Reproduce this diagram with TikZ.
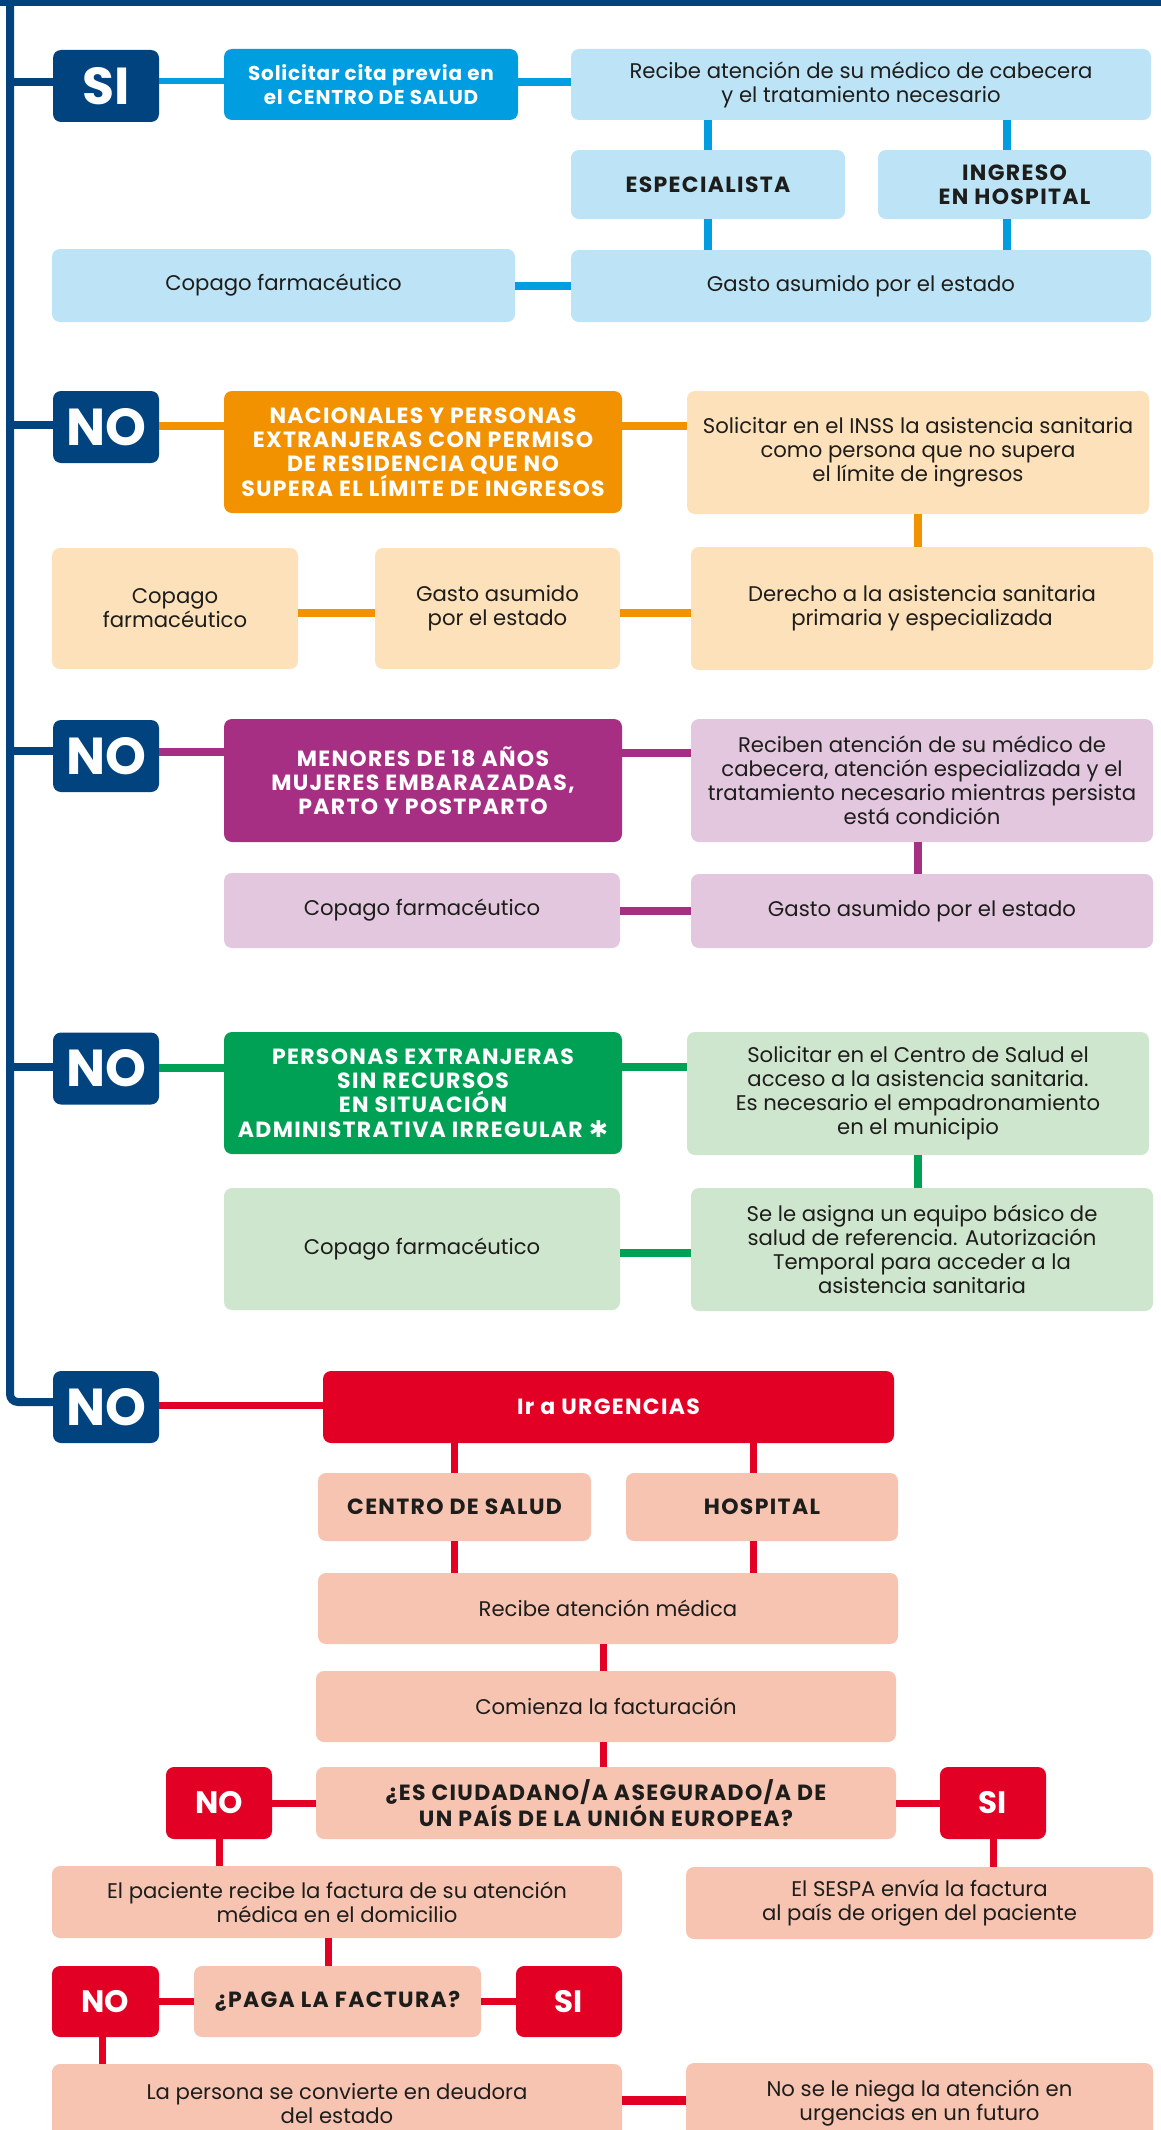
\documentclass[tikz,border=0pt]{standalone}
\usepackage{fontspec}
\setmainfont{Poppins}
\newfontfamily\dejavu{DejaVu Sans}
\newfontfamily\popls[LetterSpace=6]{Poppins}
\newfontfamily\popsol[LetterSpace=4]{Poppins}
\definecolor{dblue}{RGB}{0,67,127}
\definecolor{bblue}{RGB}{0,158,224}
\definecolor{lblue}{RGB}{189,228,246}
\definecolor{orng}{RGB}{243,146,0}
\definecolor{lorng}{RGB}{253,225,186}
\definecolor{mag}{RGB}{167,47,131}
\definecolor{lmag}{RGB}{227,199,223}
\definecolor{grn}{RGB}{0,161,84}
\definecolor{lgrn}{RGB}{207,230,206}
\definecolor{red1}{RGB}{226,0,37}
\definecolor{salm}{RGB}{247,196,178}
\definecolor{txt}{RGB}{29,29,27}
\begin{document}
\begin{tikzpicture}[x=1pt,y=-1pt,
  sz/.style 2 args={minimum width=#1pt, minimum height=#2pt},
  bx/.style={rounded corners=8pt, inner sep=2pt, outer sep=0pt, align=center, text=txt,
     font=\fontsize{21.2}{24}\selectfont},
  hd/.style={bx, text=white, font=\popls\fontsize{22}{24.3}\selectfont\bfseries},
  hds/.style={bx, text=white, font=\popsol\fontsize{20}{24}\selectfont\bfseries},
  bd/.style={bx, font=\popls\fontsize{22}{24}\selectfont\bfseries},
  yn/.style={bx, fill=dblue, text=white, font=\fontsize{52}{52}\selectfont\bfseries, sz={106}{72}},
  ryn/.style={bx, fill=red1, text=white, font=\fontsize{31}{31}\selectfont\bfseries},
  trunk/.style={draw=dblue, line width=8pt},
  cnb/.style={draw=bblue, line width=8pt},
  cno/.style={draw=orng, line width=8pt},
  cnm/.style={draw=mag, line width=8pt},
  cng/.style={draw=grn, line width=8pt},
  cnr/.style={draw=red1, line width=7pt}
]
\useasboundingbox (0,0) rectangle (1161,2130);
\clip (0,0) rectangle (1161,2130);
\fill[white] (0,0) rectangle (1161,2130);

% ---------- section 1 (blue)
\node[yn] (si) at (106,86) {SI};
\node[hds, fill=bblue, sz={294}{71}] (sol) at (371,84.5) {Solicitar cita previa en\\el CENTRO DE SALUD};
\node[bx, fill=lblue, sz={580}{71}] (recibe) at (861,84.5) {Recibe atención de su médico de cabecera\\y el tratamiento necesario};
\node[bd, fill=lblue, sz={274}{69}] (esp) at (708,184.5) {ESPECIALISTA};
\node[bd, fill=lblue, sz={273}{69}] (ing) at (1014.5,184.5) {INGRESO\\EN HOSPITAL};
\node[bx, fill=lblue, sz={580}{72}] (gasto1) at (861,286) {Gasto asumido por el estado};
\node[bx, fill=lblue, sz={463}{73}] (cop1) at (283.5,285.5) {Copago farmacéutico};

\draw[cnb, line width=6pt] ([yshift=5pt]si.east) -- ([yshift=5pt]si.east -| sol.west);
\draw[cnb] ([yshift=2pt]sol.east) -- ([yshift=2pt]sol.east -| recibe.west);
\draw[cnb] (esp.north) -- (esp.north |- recibe.south);
\draw[cnb] ([xshift=-8pt]ing.north) -- ([xshift=-8pt]ing.north |- recibe.south);
\draw[cnb] (esp.south) -- (esp.south |- gasto1.north);
\draw[cnb] ([xshift=-8pt]ing.south) -- ([xshift=-8pt]ing.south |- gasto1.north);
\draw[cnb] (cop1.east) -- (gasto1.west |- cop1.east);

% ---------- section 2 (orange)
\node[yn] (no2) at (106,427) {NO};
\node[hd, fill=orng, sz={398}{122}] (nac) at (423,452) {NACIONALES Y PERSONAS\\EXTRANJERAS CON PERMISO\\DE RESIDENCIA QUE NO\\SUPERA EL LÍMITE DE INGRESOS};
\node[bx, fill=lorng, sz={462}{123}] (inss) at (918,452.5) {Solicitar en el INSS la asistencia sanitaria\\como persona que no supera\\el límite de ingresos};
\node[bx, fill=lorng, sz={462}{123}] (der) at (922,608.5) {Derecho a la asistencia sanitaria\\primaria y especializada};
\node[bx, fill=lorng, sz={245}{121}] (gasto2) at (497.5,608.5) {Gasto asumido\\por el estado};
\node[bx, fill=lorng, sz={246}{121}] (cop2) at (175,608.5) {Copago\\farmacéutico};

\draw[cno] ([yshift=1pt]no2.east) -- ([yshift=1pt]no2.east -| nac.west);
\draw[cno] ([yshift=26pt]nac.east) -- ([yshift=26pt]nac.east -| inss.west);
\draw[cno] (inss.south) -- (inss.south |- der.north);
\draw[cno] ([yshift=-4pt]cop2.east) -- ([yshift=-4pt]gasto2.west);
\draw[cno] ([yshift=-4pt]gasto2.east) -- ([yshift=-4pt]gasto2.east -| der.west);

% ---------- section 3 (magenta)
\node[yn] (no3) at (106,756) {NO};
\node[hd, fill=mag, sz={398}{123}] (men) at (423,780.5) {MENORES DE 18 AÑOS\\MUJERES EMBARAZADAS,\\PARTO Y POSTPARTO};
\node[bx, fill=lmag, sz={462}{123}] (recb) at (922,780.5) {Reciben atención de su médico de\\cabecera, atención especializada y el\\tratamiento necesario mientras persista\\está condición};
\node[bx, fill=lmag, sz={462}{74}] (gasto3) at (922,911) {Gasto asumido por el estado};
\node[bx, fill=lmag, sz={396}{75}] (cop3) at (422,910.5) {Copago farmacéutico};

\draw[cnm] ([yshift=4pt]no3.east) -- ([yshift=4pt]no3.east -| men.west);
\draw[cnm] ([yshift=28pt]men.east) -- ([yshift=28pt]men.east -| recb.west);
\draw[cnm] ([xshift=-4pt]recb.south) -- ([xshift=-4pt]recb.south |- gasto3.north);
\draw[cnm] (cop3.east) -- (gasto3.west |- cop3.east);

% ---------- section 4 (green)
\node[yn] (no4) at (106,1068.5) {NO};
\node[hd, fill=grn, sz={398}{122}] (pers) at (423,1093) {PERSONAS EXTRANJERAS\\SIN RECURSOS\\EN SITUACIÓN\\ADMINISTRATIVA IRREGULAR {\dejavu\fontsize{23}{18}\selectfont\bfseries ✱}};
\node[bx, fill=lgrn, sz={462}{123}] (solc) at (918,1093.5) {Solicitar en el Centro de Salud el\\acceso a la asistencia sanitaria.\\Es necesario el empadronamiento\\en el municipio};
\node[bx, fill=lgrn, sz={462}{123}] (asig) at (922,1249.5) {Se le asigna un equipo básico de\\salud de referencia. Autorización\\Temporal para acceder a la\\asistencia sanitaria};
\node[bx, fill=lgrn, sz={396}{122}] (cop4) at (422,1249) {Copago farmacéutico};

\draw[cng] ([yshift=1pt]no4.east) -- ([yshift=1pt]no4.east -| pers.west);
\draw[cng] ([yshift=26pt]pers.east) -- ([yshift=26pt]pers.east -| solc.west);
\draw[cng] (solc.south) -- (solc.south |- asig.north);
\draw[cng] ([yshift=-4pt]cop4.east) -- ([yshift=-4pt]cop4.east -| asig.west);

% ---------- section 5 (red)
\node[yn] (no5) at (106,1407) {NO};
\node[hd, fill=red1, sz={571}{72}] (urg) at (608.5,1407) {Ir a URGENCIAS};
\node[bd, fill=salm, sz={273}{68}] (cs) at (454.5,1507) {CENTRO DE SALUD};
\node[bd, fill=salm, sz={272}{68}] (hosp) at (762,1507) {HOSPITAL};
\node[bx, fill=salm, sz={580}{71}] (ram) at (608,1608.5) {Recibe atención médica};
\node[bx, fill=salm, sz={580}{71}] (fac) at (606,1706.5) {Comienza la facturación};
\node[bd, fill=salm, sz={580}{72}] (ue) at (606,1803) {¿ES CIUDADANO/A ASEGURADO/A DE\\UN PAÍS DE LA UNIÓN EUROPEA?};
\node[ryn, sz={106}{72}] (noue) at (219,1803) {NO};
\node[ryn, sz={106}{72}] (siue) at (993,1803) {SI};
\node[bx, fill=salm, sz={570}{72}] (pac) at (337,1902) {El paciente recibe la factura de su atención\\médica en el domicilio};
\node[bx, fill=salm, sz={467}{72}] (sespa) at (919.5,1903) {El SESPA envía la factura\\al país de origen del paciente};
\node[bd, fill=salm, sz={287}{71}] (paga) at (337.5,2001.5) {¿PAGA LA FACTURA?};
\node[ryn, sz={107}{71}] (nopaga) at (105.5,2001.5) {NO};
\node[ryn, sz={106}{71}] (sipaga) at (569,2001.5) {SI};
\node[bx, fill=salm, sz={570}{80}] (deud) at (337,2104) {La persona se convierte en deudora\\del estado};
\node[bx, fill=salm, sz={467}{80}] (niega) at (919.5,2103) {No se le niega la atención en\\urgencias en un futuro};

\draw[cnr] ([yshift=2pt]no5.east) -- ([yshift=2pt]no5.east -| urg.west);
\draw[cnr] (cs.north) -- (cs.north |- urg.south);
\draw[cnr] ([xshift=-9pt]hosp.north) -- ([xshift=-9pt]hosp.north |- urg.south);
\draw[cnr] (cs.south) -- (cs.south |- ram.north);
\draw[cnr] ([xshift=-9pt]hosp.south) -- ([xshift=-9pt]hosp.south |- ram.north);
\draw[cnr] ([xshift=-5pt]ram.south) -- ([xshift=-5pt]ram.south |- fac.north);
\draw[cnr] ([xshift=-3pt]fac.south) -- ([xshift=-3pt]fac.south |- ue.north);
\draw[cnr] (noue.east) -- (ue.west |- noue.east);
\draw[cnr] (ue.east) -- (siue.west |- ue.east);
\draw[cnr] (noue.south) -- (noue.south |- pac.north);
\draw[cnr] (siue.south) -- (siue.south |- sespa.north);
\draw[cnr] ([xshift=-9pt]pac.south) -- ([xshift=-9pt]pac.south |- paga.north);
\draw[cnr] (nopaga.east) -- (paga.west |- nopaga.east);
\draw[cnr] (paga.east) -- (sipaga.west |- paga.east);
\draw[cnr] ([xshift=-3pt]nopaga.south) -- ([xshift=-3pt]nopaga.south |- deud.north);
\draw[cnr, line width=9pt] ([yshift=4pt]deud.east) -- ([yshift=4pt]deud.east -| niega.west);

% ---------- trunk
\fill[dblue] (0,0) rectangle (1161,6);
\coordinate (tk) at (10,0);
\draw[trunk, rounded corners=8pt] (tk) -- ([yshift=5pt]tk |- no5.west) -- ([yshift=5pt]no5.west);
\draw[trunk] ([yshift=4pt]tk |- si.west) -- ([yshift=4pt]si.west);
\draw[trunk] ([yshift=2pt]tk |- no2.west) -- ([yshift=2pt]no2.west);
\draw[trunk] ([yshift=5pt]tk |- no3.west) -- ([yshift=5pt]no3.west);
\draw[trunk] ([yshift=2pt]tk |- no4.west) -- ([yshift=2pt]no4.west);
\end{tikzpicture}
\end{document}
